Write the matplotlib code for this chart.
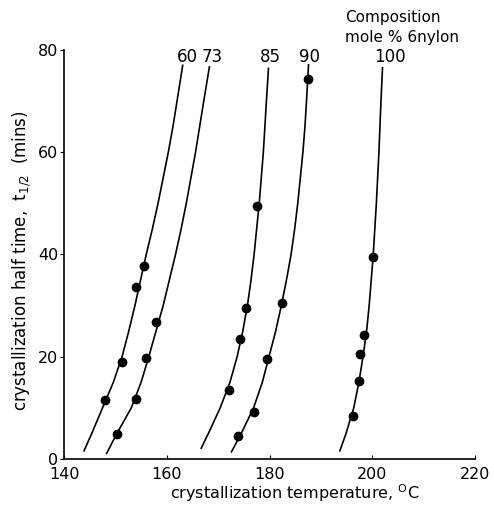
import matplotlib.pyplot as plt

plt.rcParams['font.family'] = ['DejaVu Sans']

# measured points (temperature C, half time mins)
labels = ['60', '73', '85', '90', '100']
pts_x = [
    [148.0, 151.2, 154.1, 155.6],
    [150.3, 154.1, 156.0, 157.9],
    [172.1, 174.2, 175.4, 177.6],
    [173.9, 177.0, 179.6, 182.5, 187.4],
    [196.3, 197.4, 197.6, 198.4, 200.2],
]
pts_y = [
    [11.6, 18.9, 33.6, 37.8],
    [4.8, 11.8, 19.7, 26.7],
    [13.5, 23.5, 29.5, 49.5],
    [4.5, 9.2, 19.5, 30.6, 74.3],
    [8.4, 15.3, 20.5, 24.2, 39.5],
]

# points read along the drawn (fitted) curves
curve_y = [
    [1.6, 5, 10, 15, 20, 25, 30, 35, 40, 45, 50, 55, 60, 65, 70, 77],
    [1.1, 5, 10, 15, 20, 25, 30, 35, 40, 45, 50, 55, 60, 65, 70, 76.7],
    [2.1, 5, 10, 15, 20, 25, 30, 35, 40, 45, 50, 55, 60, 65, 70, 76.4],
    [1.4, 5, 10, 15, 20, 25, 30, 35, 40, 45, 50, 55, 60, 65, 70, 77.1],
    [1.6, 5, 10, 15, 20, 25, 30, 40, 50, 60, 70, 76.5],
]
curve_x = [
    [143.9, 145.4, 147.5, 149.6, 151.3, 152.6, 153.8, 154.9, 156.0, 157.2,
     158.3, 159.3, 160.3, 161.2, 162.0, 163.1],
    [148.3, 150.3, 153.1, 155.0, 156.5, 157.9, 159.3, 160.5, 161.7, 162.8,
     163.8, 164.7, 165.6, 166.4, 167.2, 168.3],
    [166.7, 168.1, 170.4, 172.3, 173.7, 174.8, 175.7, 176.4, 177.0, 177.5,
     178.0, 178.4, 178.8, 179.1, 179.4, 179.8],
    [172.6, 174.5, 176.9, 178.6, 179.9, 181.2, 182.3, 183.3, 184.2, 184.9,
     185.5, 186.0, 186.5, 186.9, 187.2, 187.6],
    [193.7, 194.9, 196.4, 197.4, 198.2, 198.9, 199.4, 200.2, 200.8, 201.3,
     201.7, 202.0],
]
label_x = [164.1, 168.9, 180.1, 187.7, 203.4]

xticks = [140, 160, 180, 200, 220]
yticks = [0, 20, 40, 60, 80]

fig = plt.figure(figsize=(4.94, 5.07), dpi=100)
ax = fig.add_axes([0.1296, 0.0947, 0.8319, 0.8067])

for i in range(len(labels)):
    ax.plot(curve_x[i], curve_y[i], color='black', lw=1.2, solid_joinstyle='round')
    ax.plot(pts_x[i], pts_y[i], 'o', color='black', ms=6)
    ax.text(label_x[i], 78.7, labels[i], ha='center', va='center', fontsize=12,
            clip_on=False)

ax.text(194.7, 86.3, 'Composition', ha='left', va='center', fontsize=11, clip_on=False)
ax.text(194.7, 82.5, 'mole % 6nylon', ha='left', va='center', fontsize=11, clip_on=False)

ax.set_xlim(140, 220)
ax.set_ylim(0, 80)
ax.set_xticks(xticks)
ax.set_yticks(yticks)
ax.tick_params(axis='x', direction='in', length=3, labelsize=11.5, pad=6)
ax.tick_params(axis='y', direction='out', length=3, labelsize=11.5, pad=1)
ax.spines['top'].set_visible(False)
ax.spines['right'].set_visible(False)
for s in ['left', 'bottom']:
    ax.spines[s].set_linewidth(1.2)

ax.set_xlabel('crystallization temperature, $^{\\mathrm{O}}$C', fontsize=11.5,
              labelpad=0, x=0.562)
ax.set_ylabel('crystallization half time,  t$_{1/2}$  (mins)', fontsize=12,
              labelpad=4, y=0.485)

fig.savefig('out.png', dpi=100)
